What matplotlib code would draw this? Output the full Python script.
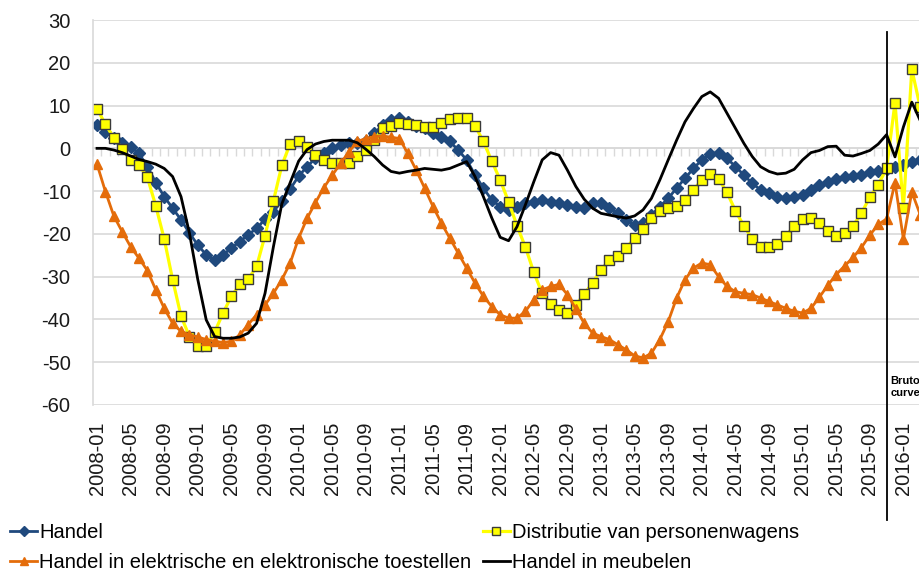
import numpy as np
import pandas as pd
import matplotlib
matplotlib.use("Agg")
import matplotlib.pyplot as plt

plt.rcParams['font.family'] = ['Liberation Sans', 'DejaVu Sans']
plt.rcParams['axes.unicode_minus'] = False

# maanden 2008-01 .. 2016-03
months = pd.period_range('2008-01', periods=99, freq='M').strftime('%Y-%m').tolist()

handel = [5.4, 3.9, 2.5, 1.2, 0.4, -1.2, -4.3, -8.0, -11.3, -14.0,
          -16.7, -19.8, -22.6, -24.9, -26.1, -24.9, -23.3, -21.8, -20.2, -18.7,
          -16.6, -14.8, -12.3, -9.5, -6.5, -4.3, -2.3, -1.0, 0.0, 0.8,
          1.2, 1.2, 1.6, 3.5, 5.4, 6.6, 7.0, 6.2, 5.2, 4.7,
          3.5, 2.7, 1.6, -0.4, -2.7, -6.2, -9.3, -12.1, -13.6, -14.4,
          -13.6, -12.8, -12.5, -12.1, -12.5, -12.8, -13.2, -13.6, -14.0, -12.8,
          -12.8, -14.0, -15.2, -16.7, -18.0, -17.5, -15.6, -13.6, -11.7, -9.3,
          -7.0, -4.7, -2.7, -1.3, -1.0, -2.3, -4.3, -6.2, -8.2, -9.7,
          -10.5, -11.3, -11.7, -11.4, -10.9, -9.7, -8.6, -7.8, -7.2, -6.8,
          -6.5, -6.2, -5.6, -5.2, -4.8, -4.4, -4.0, -3.3, -2.8]

distributie = [9.3, 5.6, 2.5, -0.2, -2.8, -3.9, -6.8, -13.5, -21.2, -30.7,
               -39.2, -44.0, -46.3, -46.3, -43.0, -38.5, -34.6, -31.8, -30.6, -27.6,
               -20.4, -12.3, -4.0, 1.1, 1.6, 0.4, -1.5, -2.7, -3.5, -3.5,
               -3.5, -1.9, -0.4, 1.9, 4.7, 5.3, 6.0, 5.8, 5.4, 5.1,
               5.1, 6.0, 6.8, 7.2, 7.2, 5.3, 1.6, -3.0, -7.4, -12.5,
               -18.1, -23.1, -29.0, -33.9, -36.3, -37.7, -38.5, -36.6, -34.1, -31.4,
               -28.4, -26.1, -25.1, -23.3, -21.0, -18.9, -16.3, -14.6, -14.0, -13.5,
               -12.1, -9.7, -7.4, -6.0, -7.2, -10.3, -14.6, -18.1, -21.2, -23.0,
               -23.1, -22.4, -20.5, -18.1, -16.6, -16.3, -17.5, -19.3, -20.6, -19.9,
               -18.1, -15.2, -11.4, -8.5, -4.7, 10.7, -14.0, 18.5, 9.6]

elektrisch = [-3.7, -10.1, -15.8, -19.5, -23.0, -25.7, -28.6, -33.1, -37.4, -40.9,
              -42.8, -43.6, -44.1, -44.7, -45.1, -45.4, -45.1, -43.6, -41.2, -38.9,
              -36.6, -33.9, -30.7, -26.8, -21.0, -16.4, -12.7, -9.2, -6.3, -3.5,
              -0.8, 1.6, 2.3, 2.7, 2.9, 2.6, 2.3, -1.2, -5.1, -9.3,
              -13.6, -17.5, -21.0, -24.5, -28.0, -31.5, -34.6, -37.0, -38.9, -39.7,
              -39.7, -38.1, -35.4, -33.1, -32.3, -31.8, -34.2, -37.5, -40.9, -43.2,
              -44.0, -44.7, -45.9, -47.1, -48.5, -49.0, -47.9, -44.7, -40.5, -35.0,
              -30.7, -28.0, -26.8, -27.2, -30.0, -32.3, -33.5, -33.9, -34.2, -35.0,
              -35.8, -36.6, -37.4, -38.1, -38.5, -37.4, -34.8, -32.0, -29.5, -27.5,
              -25.5, -23.2, -20.3, -17.8, -16.5, -8.0, -21.2, -10.2, -15.5]

meubelen = [0.0, 0.0, -0.4, -1.0, -1.8, -2.6, -3.1, -3.7, -4.7, -6.6,
            -11.3, -19.8, -30.7, -40.1, -44.0, -44.4, -44.4, -44.1, -43.2, -40.9,
            -33.9, -23.0, -13.0, -8.0, -3.0, -0.3, 1.0, 1.6, 1.9, 1.9,
            1.9, 1.3, -0.2, -1.9, -3.9, -5.4, -5.8, -5.4, -5.1, -4.7,
            -4.9, -5.1, -4.7, -3.9, -3.1, -6.6, -11.3, -16.3, -20.8, -21.6,
            -18.3, -13.2, -7.8, -2.7, -1.0, -1.6, -5.1, -8.9, -11.9, -14.0,
            -15.2, -15.6, -16.0, -16.3, -15.8, -14.4, -11.7, -7.4, -2.7, 1.9,
            6.2, 9.3, 12.1, 13.2, 11.7, 8.2, 4.7, 1.2, -1.9, -4.3,
            -5.4, -6.0, -5.8, -4.9, -2.7, -1.0, -0.5, 0.4, 0.5, -1.6,
            -1.8, -1.2, -0.5, 1.0, 3.2, -2.0, 5.0, 10.8, 6.5]

labels = ['Handel', 'Distributie van personenwagens',
          'Handel in elektrische en elektronische toestellen', 'Handel in meubelen']
break_month = 94  # bruto curve vanaf hier

x = np.arange(len(months))
grid_col = '#d9d9d9'
fs = 14.5

fig = plt.figure(figsize=(9.19, 5.72), dpi=100)
ax = fig.add_axes([0.101, 0.292, 0.9323, 0.673])

h1, = ax.plot(x, handel, color='#1f497d', lw=2, marker='D', ms=6.3, mec='#1f497d')
h2, = ax.plot(x, distributie, color='#ffff00', lw=2.3, marker='s', ms=7.5,
              mfc='#ffff00', mec='#3a3a3a', mew=1)
h3, = ax.plot(x, elektrisch, color='#e46c0a', lw=2, marker='^', ms=7.5, mec='#e46c0a')
h4, = ax.plot(x, meubelen, color='black', lw=2)

ax.set_xlim(-0.5, 101.5)
ax.set_ylim(-60, 30)
ax.set_yticks(np.arange(-60, 31, 10))
ax.yaxis.grid(True, color=grid_col, lw=1.2)
ax.set_axisbelow(True)
for s in ['top', 'right', 'bottom']:
    ax.spines[s].set_visible(False)
ax.spines['left'].set_color(grid_col)
ax.spines['left'].set_linewidth(1.2)
ax.tick_params(axis='y', length=0, pad=16, labelsize=fs, colors='#1a1a1a')

ax.set_xticks(x[::4])
ax.set_xticklabels(months[::4], rotation=90)
ax.tick_params(axis='x', length=0, pad=12, labelsize=fs, colors='#1a1a1a')

# horizontale as op nul met maandstreepjes
secax = ax.secondary_xaxis(2 / 3)
secax.set_alignment('bottom')
secax.set_xticks(np.arange(-0.5, len(months), 1))
secax.set_xticklabels([])
secax.tick_params(axis='x', length=6, width=1, color=grid_col, direction='out')
for s in secax.spines.values():
    s.set_color(grid_col)
    s.set_linewidth(1.2)

ax.axvline(break_month, ymin=-0.3, ymax=0.969, color='black', lw=1.3, clip_on=False)
ax.text(break_month + 0.45, -55.8, 'Bruto\ncurve', fontsize=8, fontweight='bold',
        va='center', ha='left', linespacing=1.3)

fig.legend([h1, h3, h2, h4], [labels[0], labels[2], labels[1], labels[3]],
           ncol=2, loc='upper left', bbox_to_anchor=(0.011, 0.085), frameon=False,
           fontsize=fs, handlelength=1.35, handletextpad=0.1, columnspacing=0.55,
           borderpad=0, borderaxespad=0, labelspacing=0.55, markerscale=0.75)

fig.savefig('out.png', dpi=100)
